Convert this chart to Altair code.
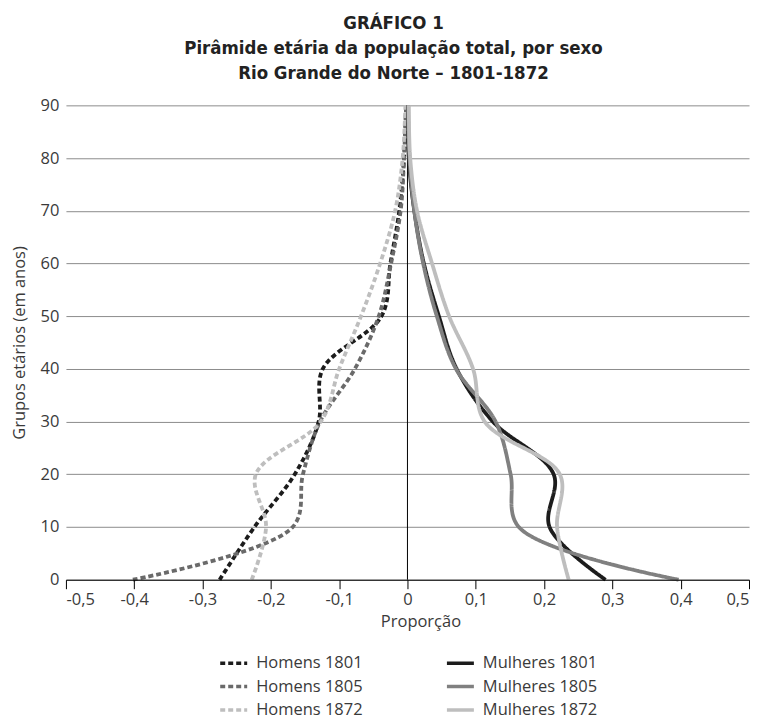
import altair as alt
import pandas as pd

idades = [0, 10, 20, 30, 40, 50, 60, 70, 80, 90]
series = ["Homens 1801", "Homens 1805", "Homens 1872", "Mulheres 1801", "Mulheres 1805", "Mulheres 1872"]

homens_1801 = [-0.275, -0.224, -0.165, -0.130, -0.124, -0.038, -0.025, -0.012, -0.005, -0.002]
homens_1805 = [-0.402, -0.168, -0.153, -0.128, -0.077, -0.042, -0.024, -0.010, -0.005, -0.002]
homens_1872 = [-0.228, -0.207, -0.222, -0.127, -0.100, -0.068, -0.040, -0.018, -0.007, -0.003]
mulheres_1801 = [0.290, 0.208, 0.214, 0.125, 0.072, 0.046, 0.024, 0.010, 0.002, 0.001]
mulheres_1805 = [0.397, 0.163, 0.151, 0.129, 0.071, 0.043, 0.023, 0.010, 0.003, 0.001]
mulheres_1872 = [0.236, 0.219, 0.223, 0.113, 0.096, 0.061, 0.036, 0.014, 0.004, 0.002]

valores = [homens_1801, homens_1805, homens_1872, mulheres_1801, mulheres_1805, mulheres_1872]
cores = ["#1c1c1c", "#6a6a6a", "#bebebe", "#1c1c1c", "#808080", "#bebebe"]
tracos = [[5, 3], [5, 3], [5, 3], [1, 0], [1, 0], [1, 0]]

x_ticks = [-0.5, -0.4, -0.3, -0.2, -0.1, 0, 0.1, 0.2, 0.3, 0.4, 0.5]
y_ticks = [0, 10, 20, 30, 40, 50, 60, 70, 80, 90]

rows = []
for nome, vals in zip(series, valores):
    for a, v in zip(idades, vals):
        rows.append({"serie": nome, "idade": a, "prop": v})
df = pd.DataFrame(rows)

FONT = "Open Sans"
FS = 16.5
TXT = "#3a3a3a"

leg = alt.Legend(
    orient="none", legendX=157, legendY=547.5, columns=2, direction="vertical", title=None,
    symbolType="M-1.5,0H1.5", symbolSize=324, symbolStrokeWidth=3.5,
    labelFont=FONT, labelFontSize=FS, labelColor=TXT, labelOffset=11.5,
    rowPadding=3.5, columnPadding=76, padding=0,
)

x_scale = alt.Scale(domain=[-0.5, 0.5], nice=False, zero=False)
y_scale = alt.Scale(domain=[0, 90], nice=False)

lines = alt.Chart(df).mark_line(interpolate="catmull-rom", strokeWidth=3.8).encode(
    x=alt.X("prop:Q", scale=x_scale, title="Proporção",
            axis=alt.Axis(values=x_ticks, grid=False, domainColor="black", tickColor="black",
                          tickSize=9, labelPadding=3, titlePadding=5, zindex=1,
                          titleX=355, titleAlign="center",
                          labelExpr="datum.value == 0 ? '0' : replace(replace(format(datum.value, '.1f'), '.', ','), '\u2212', '-')")),
    y=alt.Y("idade:Q", scale=y_scale, title="Grupos etários (em anos)",
            axis=alt.Axis(values=y_ticks, grid=True, gridColor="#8c8c8c", domain=False, ticks=False,
                          labelPadding=7, titlePadding=13)),
    color=alt.Color("serie:N", scale=alt.Scale(domain=series, range=cores), legend=leg),
    strokeDash=alt.StrokeDash("serie:N", scale=alt.Scale(domain=series, range=tracos), legend=leg),
    order=alt.Order("idade:Q"),
)

zero_df = pd.DataFrame({"x": [0]})
rule = alt.Chart(zero_df).mark_rule(color="black", strokeWidth=1).encode(x=alt.X("x:Q", scale=x_scale))

chart = alt.layer(rule, lines).properties(
    width=684, height=475,
    autosize=alt.AutoSizeParams(type="none"),
    padding={"left": 58, "top": 97, "right": 10, "bottom": 142},
    title=alt.TitleParams(
        ["GRÁFICO 1", "Pirâmide etária da população total, por sexo", "Rio Grande do Norte – 1801-1872"],
        anchor="middle", dx=-14, offset=15, fontSize=18.5, fontWeight="bold",
        font="'DejaVu Sans Condensed', Roboto, sans-serif", lineHeight=25, color="#222222",
    ),
).configure_view(stroke=None).configure_axis(
    labelFont=FONT, labelFontSize=FS, labelColor=TXT,
    titleFont=FONT, titleFontSize=FS, titleColor=TXT, titleFontWeight="normal",
)

chart.save("out.html", embed_options={"renderer": "svg", "actions": False})
